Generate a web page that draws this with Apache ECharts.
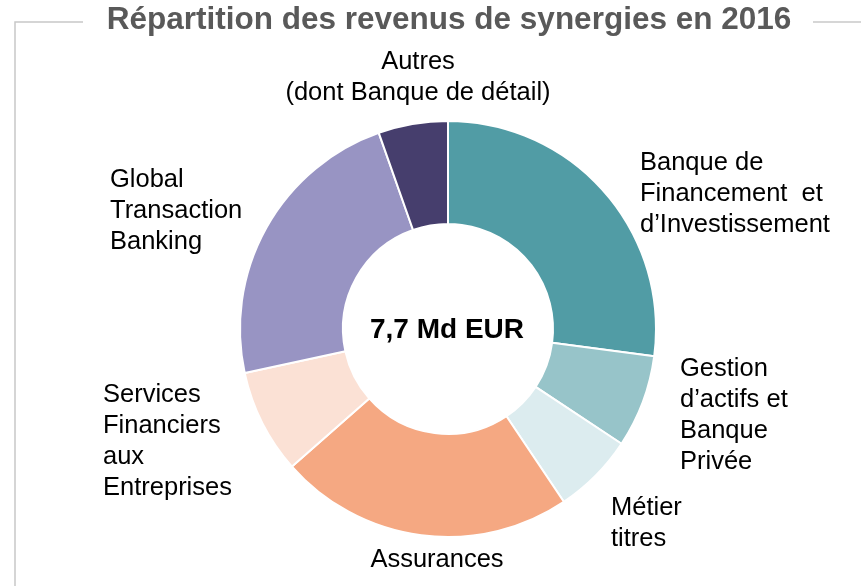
<!DOCTYPE html>
<html>
<head>
<meta charset="utf-8">
<script src="https://cdn.jsdelivr.net/npm/echarts@6/dist/echarts.min.js"></script>
<style>
  html, body { margin: 0; padding: 0; background: #fff; }
  #chart { width: 861px; height: 586px; }
</style>
</head>
<body>
<div id="chart"></div>
<script>
  // parts des revenus de synergies 2016 (en %)
  var categories = [
    'Banque de\nFinancement  et\nd\u2019Investissement',
    'Gestion\nd\u2019actifs et\nBanque\nPriv\u00e9e',
    'M\u00e9tier\ntitres',
    'Assurances',
    'Services\nFinanciers\naux\nEntreprises',
    'Global\nTransaction\nBanking',
    'Autres\n(dont Banque de d\u00e9tail)'
  ]
  var values = [27.1, 7.2, 6.3, 22.9, 8.1, 23.0, 5.4]
  var colors = ['#519ca5', '#97c4c9', '#dcecef', '#f5a882', '#fbe1d5', '#9894c3', '#463e6d']
  var titleText = 'R\u00e9partition des revenus de synergies en 2016'
  var centerText = '7,7 Md EUR'

  // position des etiquettes (x, y, alignement)
  var labelPos = [
    [640, 194, 'left'],
    [680, 415, 'left'],
    [611, 523, 'left'],
    [437, 560, 'center'],
    [103, 441, 'left'],
    [110, 211, 'left'],
    [418, 77, 'center']
  ]

  var chart = echarts.init(document.getElementById('chart'))
  var data = categories.map(function(name, i) {
    return { name: name, value: values[i], itemStyle: { color: colors[i] } }
  })

  chart.setOption({
    animation: false,
    graphic: [
      {
        type: 'polyline',
        shape: { points: [[83, 22], [15, 22], [15, 586]] },
        style: { stroke: '#c8c8c8', lineWidth: 1.5, fill: null }
      },
      {
        type: 'line',
        shape: { x1: 813, y1: 22, x2: 861, y2: 22 },
        style: { stroke: '#c8c8c8', lineWidth: 1.5 }
      },
      {
        type: 'text',
        x: 449,
        y: 20,
        style: {
          text: titleText,
          font: 'bold 31.5px "Liberation Sans", Arial, sans-serif',
          fill: '#595959',
          textAlign: 'center',
          textVerticalAlign: 'middle'
        }
      },
      {
        type: 'text',
        x: 447,
        y: 330,
        z: 10,
        style: {
          text: centerText,
          font: 'bold 28px "Liberation Sans", Arial, sans-serif',
          fill: '#000',
          textAlign: 'center',
          textVerticalAlign: 'middle'
        }
      }
    ],
    series: [{
      type: 'pie',
      center: [448, 329],
      radius: [105, 208],
      startAngle: 90,
      clockwise: true,
      avoidLabelOverlap: false,
      itemStyle: { borderColor: '#fff', borderWidth: 2 },
      label: {
        show: true,
        position: 'outside',
        formatter: '{b}',
        color: '#000',
        fontSize: 25.5,
        lineHeight: 31,
        fontFamily: '"Liberation Sans", Arial, sans-serif'
      },
      labelLine: { show: false },
      emphasis: { disabled: true },
      labelLayout: function(params) {
        var p = labelPos[params.dataIndex]
        return { x: p[0], y: p[1], align: p[2], verticalAlign: 'middle' }
      },
      data: data
    }]
  })
</script>
</body>
</html>
